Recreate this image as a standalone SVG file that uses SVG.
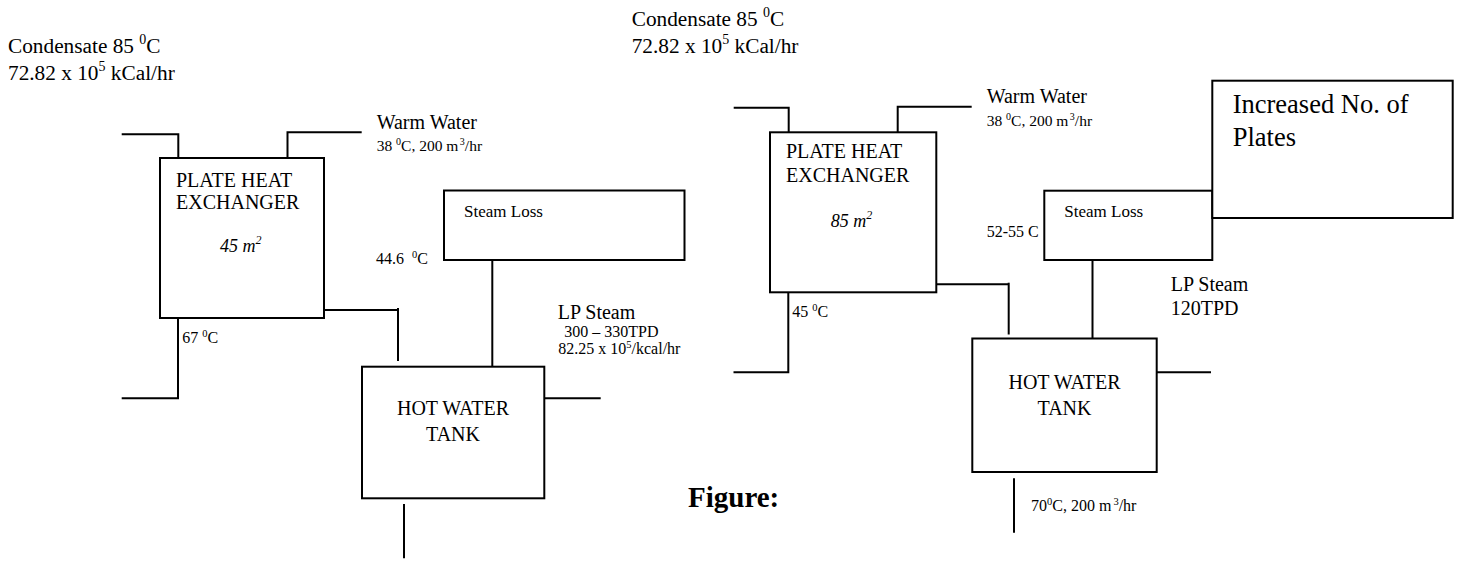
<svg xmlns="http://www.w3.org/2000/svg" width="1457" height="563" viewBox="0 0 1457 563">
<style>
text{font-family:"Liberation Serif","Times New Roman",serif;fill:#000}
.ln{fill:none;stroke:#000;stroke-width:2}
.box{fill:#fff;stroke:#000;stroke-width:2}
.f21{font-size:21.3px}
.f20{font-size:20px}
.f17{font-size:17px}
.f16{font-size:16px}
.f15{font-size:15.5px}
.it{font-style:italic;font-size:18px}
.mid{text-anchor:middle}
</style>
<rect width="1457" height="563" fill="#fff"/>

<g id="connectors">
  <!-- left diagram -->
  <polyline class="ln" points="121.7,134.3 178.3,134.3 178.3,158"/>
  <polyline class="ln" points="287.5,158 287.5,132.3 361.7,132.3"/>
  <polyline class="ln" points="324,310 398,310"/>
  <line class="ln" x1="398" y1="308" x2="398" y2="361"/>
  <line class="ln" x1="492.3" y1="260" x2="492.3" y2="366.7"/>
  <line class="ln" x1="544.3" y1="398.3" x2="600.7" y2="398.3"/>
  <line class="ln" x1="404" y1="504" x2="404" y2="558.3"/>
  <polyline class="ln" points="178,318 178,398.3 121.7,398.3"/>
  <!-- right diagram -->
  <polyline class="ln" points="733.7,107.7 788.7,107.7 788.7,132.3"/>
  <polyline class="ln" points="897.7,132.3 897.7,106.7 971.7,106.7"/>
  <polyline class="ln" points="936.3,284.3 1008.7,284.3"/>
  <line class="ln" x1="1008.7" y1="282.7" x2="1008.7" y2="334.5"/>
  <line class="ln" x1="1092.5" y1="260" x2="1092.5" y2="345"/>
  <line class="ln" x1="1156.7" y1="372.3" x2="1211" y2="372.3"/>
  <line class="ln" x1="1014" y1="478.3" x2="1014" y2="532.7"/>
  <polyline class="ln" points="788.3,292.3 788.3,372.3 733.5,372.3"/>
</g>

<!-- LEFT DIAGRAM -->
<g id="left-condensate-label">
  <text x="8" y="52.5" class="f21">Condensate 85 <tspan font-size="14" dy="-9">0</tspan><tspan dy="9">C</tspan></text>
  <text x="8" y="80" class="f21">72.82 x 10<tspan font-size="14" dy="-9">5</tspan><tspan dy="9"> kCal/hr</tspan></text>
</g>
<g id="left-phe">
  <rect class="box" x="160" y="158" width="164" height="160"/>
  <text x="176" y="186.5" class="f20">PLATE HEAT</text>
  <text x="176" y="208.5" class="f20">EXCHANGER</text>
  <text x="220" y="251.5" class="it">45 m<tspan font-size="12" dy="-8">2</tspan></text>
</g>
<g id="left-warm-water-label">
  <text x="376.7" y="128.5" class="f20">Warm Water</text>
  <text x="376.7" y="150.5" class="f15">38 <tspan font-size="10" dy="-6">0</tspan><tspan dy="6">C, 200 m</tspan><tspan font-size="10" dx="1.5" dy="-6">3</tspan><tspan dy="6">/hr</tspan></text>
</g>
<g id="left-temp-labels">
  <text x="376" y="264" class="f16">44.6 <tspan font-size="10.5" dx="4" dy="-6">0</tspan><tspan dy="6">C</tspan></text>
  <text x="182.3" y="343.3" class="f16">67 <tspan font-size="10.5" dy="-6">0</tspan><tspan dy="6">C</tspan></text>
</g>
<g id="left-steam-loss">
  <rect class="box" x="444" y="190.5" width="240.5" height="69.5"/>
  <text x="464" y="216.7" class="f17">Steam Loss</text>
</g>
<g id="left-lp-steam-label">
  <text x="557.7" y="319.3" class="f20">LP Steam</text>
  <text x="564.3" y="336.7" class="f16">300 – 330TPD</text>
  <text x="558.3" y="354.3" class="f16">82.25 x 10<tspan font-size="10.5" dy="-6">5</tspan><tspan dy="6">/kcal/hr</tspan></text>
</g>
<g id="left-tank">
  <rect class="box" x="362" y="366.7" width="182.3" height="131.6"/>
  <text x="453" y="415" class="f20 mid">HOT WATER</text>
  <text x="453" y="441" class="f20 mid">TANK</text>
</g>

<!-- RIGHT DIAGRAM -->
<g id="right-condensate-label">
  <text x="631.7" y="26" class="f21">Condensate 85 <tspan font-size="14" dy="-9">0</tspan><tspan dy="9">C</tspan></text>
  <text x="631.7" y="53.3" class="f21">72.82 x 10<tspan font-size="14" dy="-9">5</tspan><tspan dy="9"> kCal/hr</tspan></text>
</g>
<g id="right-phe">
  <rect class="box" x="770" y="132.3" width="166.3" height="160"/>
  <text x="786" y="158.3" class="f20">PLATE HEAT</text>
  <text x="786" y="181.7" class="f20">EXCHANGER</text>
  <text x="830.7" y="226.7" class="it">85 m<tspan font-size="12" dy="-8">2</tspan></text>
</g>
<g id="right-warm-water-label">
  <text x="986.7" y="103.3" class="f20">Warm Water</text>
  <text x="986.7" y="126" class="f15">38 <tspan font-size="10" dy="-6">0</tspan><tspan dy="6">C, 200 m</tspan><tspan font-size="10" dx="1.5" dy="-6">3</tspan><tspan dy="6">/hr</tspan></text>
</g>
<g id="right-temp-labels">
  <text x="986.7" y="236.7" class="f16">52-55 C</text>
  <text x="792.3" y="316.7" class="f16">45 <tspan font-size="10.5" dy="-6">0</tspan><tspan dy="6">C</tspan></text>
</g>
<g id="right-steam-loss">
  <rect class="box" x="1044.3" y="190.7" width="168" height="69.3"/>
  <text x="1064.3" y="216.7" class="f17">Steam Loss</text>
</g>
<g id="increased-plates">
  <rect class="box" x="1212.3" y="80.7" width="240.4" height="137.3"/>
  <text x="1232.7" y="113.3" font-size="26.5">Increased No. of</text>
  <text x="1232.7" y="146" font-size="26.5">Plates</text>
</g>
<g id="right-lp-steam-label">
  <text x="1170.7" y="290.8" class="f20">LP Steam</text>
  <text x="1170.7" y="314.7" class="f20">120TPD</text>
</g>
<g id="right-tank">
  <rect class="box" x="972.3" y="338.5" width="184.4" height="133.5"/>
  <text x="1064.5" y="389" class="f20 mid">HOT WATER</text>
  <text x="1064.5" y="415" class="f20 mid">TANK</text>
</g>
<g id="right-outlet-label">
  <text x="1031" y="511" class="f16">70<tspan font-size="10.5" dy="-6">0</tspan><tspan dy="6">C, 200 m</tspan><tspan font-size="10.5" dx="2" dy="-6">3</tspan><tspan dy="6">/hr</tspan></text>
</g>
<g id="figure-caption">
  <text x="688" y="506.7" font-size="29" font-weight="bold">Figure:</text>
</g>
</svg>
